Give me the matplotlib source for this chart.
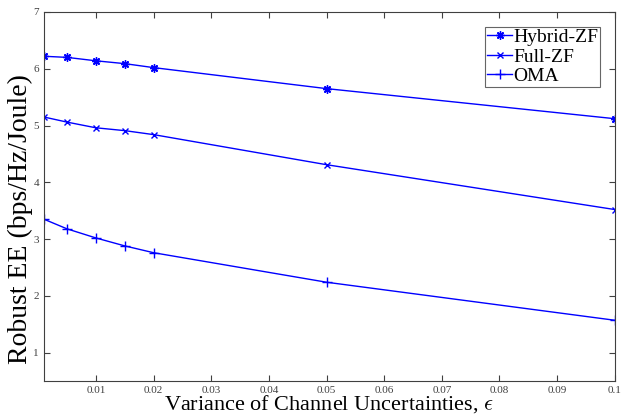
import matplotlib
matplotlib.use("Agg")
import matplotlib.pyplot as plt

# Dados
epsilon = [0.001, 0.005, 0.01, 0.015, 0.02, 0.05, 0.1]
hybrid_zf = [6.22, 6.20, 6.14, 6.09, 6.02, 5.65, 5.12]
full_zf = [5.15, 5.06, 4.96, 4.91, 4.84, 4.31, 3.52]
oma = [3.35, 3.18, 3.02, 2.88, 2.76, 2.24, 1.57]

xticks = [0.01, 0.02, 0.03, 0.04, 0.05, 0.06, 0.07, 0.08, 0.09, 0.1]
xticklabels = ["0.01", "0.02", "0.03", "0.04", "0.05", "0.06", "0.07", "0.08", "0.09", "0.1"]
yticks = [1, 2, 3, 4, 5, 6, 7]

plt.rcParams["font.family"] = ["Liberation Serif", "DejaVu Serif"]
plt.rcParams["mathtext.fontset"] = "cm"

fig = plt.figure(figsize=(6.28, 4.17), dpi=100)
ax = fig.add_axes([0.070, 0.0863, 0.909, 0.885])

cor = "#0000ff"
ax.plot(epsilon, hybrid_zf, color=cor, marker=(8, 2, 0), markersize=6, mew=1, lw=1, label="Hybrid-ZF")
ax.plot(epsilon, full_zf, color=cor, marker="x", markersize=4.5, mew=1, lw=1, label="Full-ZF")
ax.plot(epsilon, oma, color=cor, marker="+", markersize=7, mew=1, lw=1, label="OMA")

ax.set_xlim(0.001, 0.1)
ax.set_ylim(0.5, 7)
ax.set_xticks(xticks)
ax.set_xticklabels(xticklabels)
ax.set_yticks(yticks)
ax.tick_params(direction="in", top=True, right=True, labelsize=8, colors="#404040", length=4)
for s in ax.spines.values():
    s.set_color("#404040")

ax.set_xlabel(r"Variance of Channel Uncertainties, $\epsilon$", fontsize=16, labelpad=-1)
ax.set_ylabel("Robust EE (bps/Hz/Joule)", fontsize=20)
# o rótulo do eixo y fica um pouco abaixo do centro no original
ax.yaxis.set_label_coords(-0.02, 0.44)

leg = ax.legend(loc="upper right", fontsize=14, frameon=True, fancybox=False,
                edgecolor="#404040", handlelength=1.3, handletextpad=0.05,
                borderpad=0.1, labelspacing=0.1, borderaxespad=0.75)
leg.get_frame().set_linewidth(0.8)

plt.savefig("out.png", dpi=100)
plt.close(fig)
